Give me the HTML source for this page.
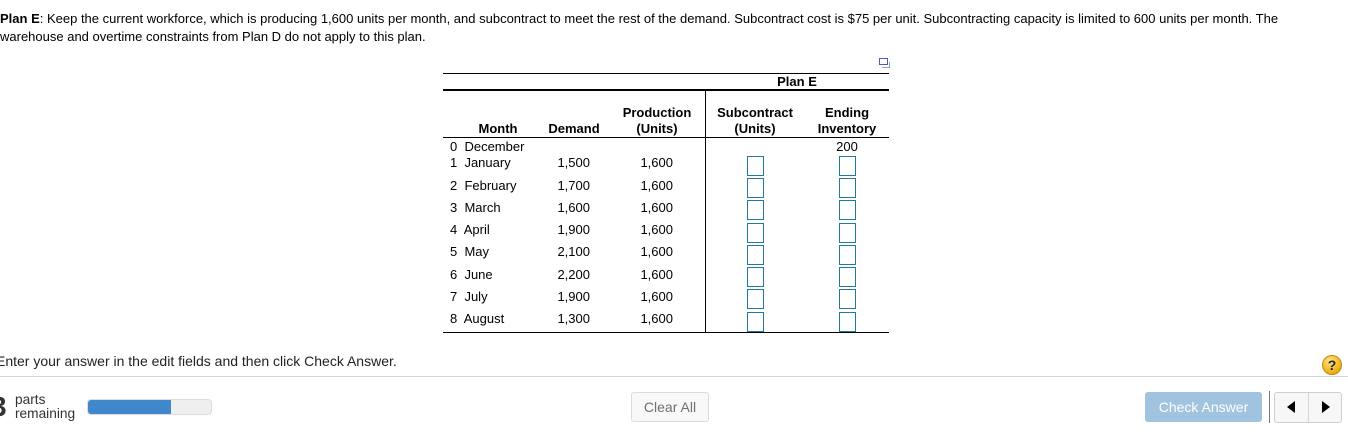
<!DOCTYPE html>
<html><head><meta charset="utf-8"><style>
*{margin:0;padding:0;box-sizing:border-box}
html,body{width:1348px;height:437px;overflow:hidden;background:#fff;font-family:"Liberation Sans",Arial,sans-serif;color:#000}
.a{position:absolute;white-space:nowrap}
.t{font-size:13px;line-height:16px}
.b{font-weight:bold}
.r{text-align:right}
.c{text-align:center}
.box{position:absolute;width:17px;height:20px;border:1.5px solid #1f7a9c;background:#fff}
.hl{position:absolute;background:#000}
</style></head><body>

<div class="a t" style="left:0;top:10px;line-height:18px;white-space:normal;width:1340px"><b>Plan E</b>: Keep the current workforce, which is producing 1,600 units per month, and subcontract to meet the rest of the demand. Subcontract cost is $75 per unit. Subcontracting capacity is limited to 600 units per month. The<br>warehouse and overtime constraints from Plan D do not apply to this plan.</div>

<!-- icon -->
<div class="a" style="left:879px;top:58px;width:9px;height:7px;border:1.5px solid #4a5bc4"></div>
<div class="a" style="left:882px;top:62px;width:8px;height:6px;border:1px solid #9aa0b8;border-top:none;border-left:none"></div>

<!-- table lines -->
<div class="hl" style="left:443px;top:73px;width:446px;height:1px"></div>
<div class="hl" style="left:443px;top:89px;width:446px;height:2px"></div>
<div class="hl" style="left:443px;top:137px;width:446px;height:1px"></div>
<div class="hl" style="left:443px;top:332px;width:446px;height:1px"></div>
<div class="hl" style="left:705px;top:91px;width:1px;height:242px"></div>

<div class="a t b c" style="left:705px;top:74px;width:184px">Plan E</div>
<div class="a t b c" style="left:620px;top:105px;width:74px">Production</div>
<div class="a t b c" style="left:620px;top:121px;width:74px">(Units)</div>
<div class="a t b c" style="left:710px;top:105px;width:90px">Subcontract</div>
<div class="a t b c" style="left:710px;top:121px;width:90px">(Units)</div>
<div class="a t b c" style="left:805px;top:105px;width:84px">Ending</div>
<div class="a t b c" style="left:805px;top:121px;width:84px">Inventory</div>
<div class="a t b c" style="left:468px;top:121px;width:60px">Month</div>
<div class="a t b c" style="left:544px;top:121px;width:60px">Demand</div>

<div class="a t" style="left:450px;top:139px">0&nbsp; December</div>
<div class="a t c" style="left:820px;top:139px;width:54px">200</div>

<div class="a t" style="left:450px;top:155px">1&nbsp; January</div>
<div class="a t r" style="left:540px;top:155px;width:50px">1,500</div>
<div class="a t r" style="left:623px;top:155px;width:50px">1,600</div>
<div class="box" style="left:747px;top:156px"></div><div class="box" style="left:839px;top:156px"></div>

<div class="a t" style="left:450px;top:178px">2&nbsp; February</div>
<div class="a t r" style="left:540px;top:178px;width:50px">1,700</div>
<div class="a t r" style="left:623px;top:178px;width:50px">1,600</div>
<div class="box" style="left:747px;top:178px"></div><div class="box" style="left:839px;top:178px"></div>

<div class="a t" style="left:450px;top:200px">3&nbsp; March</div>
<div class="a t r" style="left:540px;top:200px;width:50px">1,600</div>
<div class="a t r" style="left:623px;top:200px;width:50px">1,600</div>
<div class="box" style="left:747px;top:200px"></div><div class="box" style="left:839px;top:200px"></div>

<div class="a t" style="left:450px;top:222px">4&nbsp; April</div>
<div class="a t r" style="left:540px;top:222px;width:50px">1,900</div>
<div class="a t r" style="left:623px;top:222px;width:50px">1,600</div>
<div class="box" style="left:747px;top:223px"></div><div class="box" style="left:839px;top:223px"></div>

<div class="a t" style="left:450px;top:244px">5&nbsp; May</div>
<div class="a t r" style="left:540px;top:244px;width:50px">2,100</div>
<div class="a t r" style="left:623px;top:244px;width:50px">1,600</div>
<div class="box" style="left:747px;top:245px"></div><div class="box" style="left:839px;top:245px"></div>

<div class="a t" style="left:450px;top:267px">6&nbsp; June</div>
<div class="a t r" style="left:540px;top:267px;width:50px">2,200</div>
<div class="a t r" style="left:623px;top:267px;width:50px">1,600</div>
<div class="box" style="left:747px;top:267px"></div><div class="box" style="left:839px;top:267px"></div>

<div class="a t" style="left:450px;top:289px">7&nbsp; July</div>
<div class="a t r" style="left:540px;top:289px;width:50px">1,900</div>
<div class="a t r" style="left:623px;top:289px;width:50px">1,600</div>
<div class="box" style="left:747px;top:289px"></div><div class="box" style="left:839px;top:289px"></div>

<div class="a t" style="left:450px;top:311px">8&nbsp; August</div>
<div class="a t r" style="left:540px;top:311px;width:50px">1,300</div>
<div class="a t r" style="left:623px;top:311px;width:50px">1,600</div>
<div class="box" style="left:747px;top:312px"></div><div class="box" style="left:839px;top:312px"></div>

<!-- bottom -->
<div class="a" style="left:-4px;top:353px;font-size:14px;line-height:17px;color:#222">Enter your answer in the edit fields and then click Check Answer.</div>
<div class="a" style="left:1322px;top:355px;width:20px;height:20px;border-radius:50%;background:radial-gradient(circle at 40% 30%,#fde58a,#f2b51e 60%,#d99400);border:1px solid #c08a10;font:bold 14px/18px 'Liberation Sans',sans-serif;text-align:center;color:#222">?</div>
<div class="a" style="left:0;top:376px;width:1348px;height:1px;background:#cfd3dc"></div>

<div class="a b" style="left:-9px;top:393px;font-size:28px;line-height:28px;color:#333">3</div>
<div class="a" style="left:15px;top:393px;font-size:13.7px;line-height:14px;color:#333">parts<br>remaining</div>
<div class="a" style="left:87px;top:399px;width:125px;height:16px;border-radius:4px;background:#efefef;border:1px solid #ddd;overflow:hidden"><div style="width:83px;height:100%;background:#3f88cb"></div></div>

<div class="a" style="left:631px;top:392px;width:78px;height:30px;border:1px solid #dcdcdc;border-radius:3px;background:#f8f8f8;color:#707070;font-size:14px;line-height:28px;text-align:center">Clear All</div>

<div class="a" style="left:1145px;top:392px;width:117px;height:30px;border-radius:3px;background:#a0c4df;color:#fff;font-size:14px;line-height:30px;text-align:center">Check Answer</div>
<div class="a" style="left:1269px;top:391px;width:1px;height:32px;background:#777"></div>
<div class="a" style="left:1274px;top:392px;width:68px;height:31px;border:1px solid #cfcfcf;border-radius:3px;background:#f7f7f7"></div>
<div class="a" style="left:1308px;top:393px;width:1px;height:29px;background:#d5d5d5"></div>
<div class="a" style="left:1287px;top:401px;width:0;height:0;border-top:6px solid transparent;border-bottom:6px solid transparent;border-right:8px solid #000"></div>
<div class="a" style="left:1322px;top:401px;width:0;height:0;border-top:6px solid transparent;border-bottom:6px solid transparent;border-left:8px solid #000"></div>

</body></html>
